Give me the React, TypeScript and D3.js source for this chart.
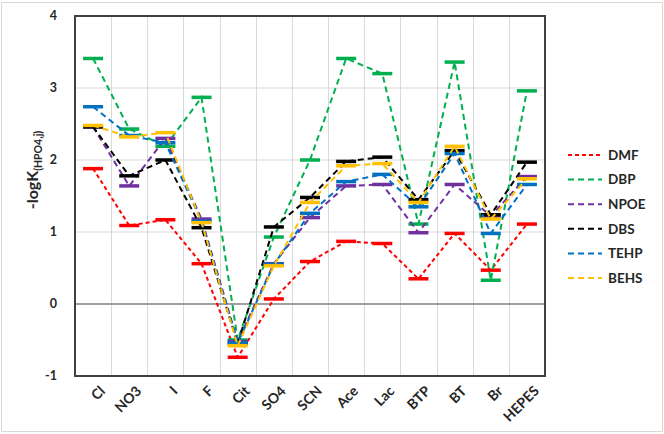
import React, { useEffect, useRef } from 'react';
import * as d3 from 'd3';

const categories = ['Cl', 'NO3', 'I', 'F', 'Cit', 'SO4', 'SCN', 'Ace', 'Lac', 'BTP', 'BT', 'Br', 'HEPES'];
const yTicks = [-1, 0, 1, 2, 3, 4];

const seriesNames = ['DMF', 'DBP', 'NPOE', 'DBS', 'TEHP', 'BEHS'];
const seriesColors = ['#ff0000', '#00b050', '#7030a0', '#000000', '#0070c0', '#ffc000'];

const dmf = [1.88, 1.09, 1.17, 0.56, -0.74, 0.07, 0.59, 0.87, 0.84, 0.35, 0.98, 0.47, 1.11];
const dbp = [3.41, 2.43, 2.19, 2.87, -0.5, 0.93, 2.0, 3.41, 3.2, 1.11, 3.36, 0.33, 2.96];
const npoe = [2.46, 1.64, 2.3, 1.18, -0.52, 0.56, 1.2, 1.64, 1.66, 0.99, 1.66, 1.22, 1.77];
const dbs = [2.46, 1.78, 2.0, 1.06, -0.55, 1.07, 1.48, 1.98, 2.04, 1.45, 2.13, 1.24, 1.97];
const tehp = [2.74, 2.34, 2.24, 1.15, -0.54, 0.55, 1.26, 1.7, 1.8, 1.35, 2.09, 0.98, 1.66];
const behs = [2.48, 2.32, 2.38, 1.13, -0.58, 0.53, 1.41, 1.92, 1.95, 1.41, 2.19, 1.18, 1.74];

const seriesValues = [dmf, dbp, npoe, dbs, tehp, behs];

export default function App() {
    const ref = useRef(null);
    const width = 664;
    const height = 434;
    const margin = { top: 16, right: 119, bottom: 58, left: 75 };

    useEffect(() => {
        document.body.style.margin = '0';
        const svg = d3.select(ref.current);
        svg.selectAll('*').remove();
        svg.style('font-family', 'Lato, "Open Sans", sans-serif');

        const x = d3.scaleBand().domain(categories).range([margin.left, width - margin.right]);
        const y = d3.scaleLinear().domain([-1, 4]).range([height - margin.bottom, margin.top]);

        // chart frame
        svg.append('rect')
            .attr('x', 1.5).attr('y', 2.5)
            .attr('width', width - 3).attr('height', height - 5)
            .attr('fill', 'white')
            .attr('stroke', '#d9d9d9');

        // gridlines
        const grid = svg.append('g').attr('stroke', '#d9d9d9').attr('stroke-width', 1);
        categories.forEach(c => {
            const gx = Math.round(x(c)) + 0.5;
            grid.append('line').attr('x1', gx).attr('x2', gx).attr('y1', y(4)).attr('y2', y(-1));
        });
        yTicks.forEach(t => {
            grid.append('line')
                .attr('x1', x.range()[0]).attr('x2', x.range()[1])
                .attr('y1', y(t)).attr('y2', y(t))
                .attr('stroke', t === 0 ? '#7f7f7f' : '#d9d9d9')
                .attr('stroke-width', t === 0 ? 1.3 : 1);
        });

        // plot border
        svg.append('rect')
            .attr('x', x.range()[0]).attr('y', y(4))
            .attr('width', x.range()[1] - x.range()[0]).attr('height', y(-1) - y(4))
            .attr('fill', 'none')
            .attr('stroke', '#404040')
            .attr('stroke-width', 2);

        // y tick labels
        svg.append('g').selectAll('text')
            .data(yTicks)
            .join('text')
            .attr('x', 57)
            .attr('y', d => y(d))
            .attr('dy', '0.35em')
            .attr('text-anchor', 'end')
            .attr('font-size', 12.5)
            .attr('font-weight', 'bold')
            .attr('fill', '#262626')
            .text(d => d);

        // x labels
        svg.append('g').selectAll('text')
            .data(categories)
            .join('text')
            .attr('transform', d => `translate(${x(d) + x.bandwidth() / 2 + 6},${y(-1) + 9}) rotate(-45)`)
            .attr('text-anchor', 'end')
            .attr('dy', '0.7em')
            .attr('font-size', 14)
            .attr('font-weight', 'bold')
            .attr('fill', '#262626')
            .text(d => d);

        // y title
        const title = svg.append('text')
            .attr('transform', `translate(38,${(y(4) + y(-1)) / 2 - 26}) rotate(-90)`)
            .attr('text-anchor', 'middle')
            .attr('font-weight', 'bold')
            .attr('fill', '#262626');
        title.append('tspan').attr('font-size', 16).text('-logK');
        title.append('tspan').attr('font-size', 10.5).attr('dy', 4).text('(HPO4,j)');

        // series
        const line = d3.line()
            .x((d, i) => x(categories[i]) + x.bandwidth() / 2)
            .y(d => y(d));

        seriesValues.forEach((vals, s) => {
            const g = svg.append('g');
            g.append('path')
                .attr('d', line(vals))
                .attr('fill', 'none')
                .attr('stroke', seriesColors[s])
                .attr('stroke-width', 2)
                .attr('stroke-dasharray', s === 0 ? '4,3' : '6,4');
            g.selectAll('line')
                .data(vals)
                .join('line')
                .attr('x1', (d, i) => x(categories[i]) + x.bandwidth() / 2 - 10)
                .attr('x2', (d, i) => x(categories[i]) + x.bandwidth() / 2 + 10)
                .attr('y1', d => y(d))
                .attr('y2', d => y(d))
                .attr('stroke', seriesColors[s])
                .attr('stroke-width', 3.5);
        });

        // legend
        const legend = svg.append('g').attr('transform', 'translate(568,155)');
        seriesNames.forEach((name, s) => {
            const row = legend.append('g').attr('transform', `translate(0,${s * 24.6})`);
            row.append('line')
                .attr('x1', 0).attr('x2', 34)
                .attr('stroke', seriesColors[s])
                .attr('stroke-width', 2)
                .attr('stroke-dasharray', s === 0 ? '4,3' : '6,4');
            row.append('text')
                .attr('x', 40)
                .attr('dy', '0.35em')
                .attr('font-size', 13.5)
                .attr('font-weight', 'bold')
                .attr('fill', '#262626')
                .text(name);
        });
    }, []);

    return (
        <div>
            <svg ref={ref} width={width} height={height} style={{ display: 'block' }}></svg>
        </div>
    );
}
